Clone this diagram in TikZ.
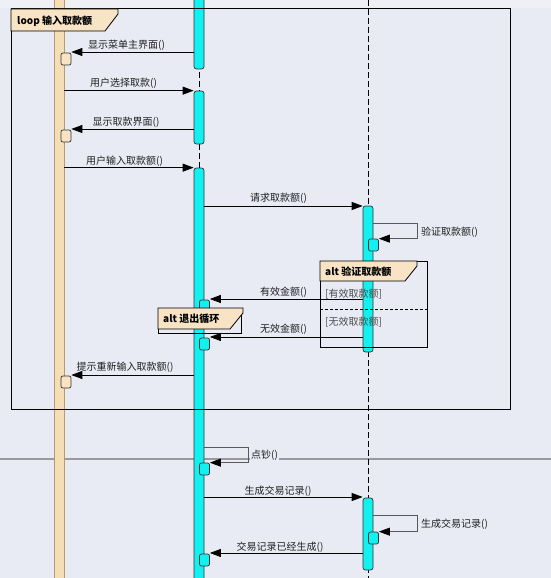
\documentclass[tikz,border=0pt]{standalone}
\usepackage{fontspec}
\setmainfont{Noto Sans CJK SC}
\usetikzlibrary{arrows.meta}
\definecolor{bg}{HTML}{E8EBF4}
\definecolor{bgtop}{HTML}{EEF0F6}
\definecolor{wheatbar}{HTML}{F5DEB6}
\definecolor{wheatedge}{HTML}{B89A70}
\definecolor{cyanbar}{HTML}{12F0F0}
\definecolor{labelfill}{HTML}{F8E4C4}
\definecolor{sepgray}{HTML}{999999}
\definecolor{txt}{HTML}{202020}
\begin{document}
\begin{tikzpicture}[x=1pt,y=-1pt,
  font=\fontsize{10}{12}\selectfont,
  tip/.style={-{Triangle[length=11pt,width=8pt,color=black]}},
  msg/.style={draw=black, line width=0.8pt, tip},
  selfmsg/.style={draw=black!65, line width=0.7pt, tip},
  lbl/.style={inner sep=0pt, text=txt},
  guard/.style={inner sep=0pt, text=black!70, anchor=west},
  flbl/.style={inner sep=0pt, anchor=west, font=\fontsize{10}{12}\selectfont\bfseries},
  cbar/.style={draw=black!80, fill=cyanbar, rounded corners=2.5pt, line width=0.7pt, minimum width=10pt, inner sep=0pt},
  wbar/.style={draw=wheatedge, fill=wheatbar, line width=0.8pt, minimum width=10pt, inner sep=0pt},
  lbox/.style={draw=black!80, fill=labelfill, rounded corners=2pt, line width=0.7pt, minimum width=10pt, minimum height=12pt, inner sep=0pt},
  cbox/.style={draw=black!80, fill=cyanbar, rounded corners=2pt, line width=0.7pt, minimum width=10pt, minimum height=12pt, inner sep=0pt},
  life/.style={draw=black, line width=0.8pt, dash pattern=on 6pt off 3pt},
  frame/.style={draw=black, line width=1pt},
  pent/.style={draw=black, fill=labelfill, line width=0.8pt},
  sep/.style={draw=sepgray, line width=1.6pt}
]
\clip (0,0) rectangle (551,578);
\fill[bg] (0,0) rectangle (551,578);
\fill[bgtop] (0,0) rectangle (551,8);

% separator line
\coordinate (sepL) at (0,459);
\coordinate (sepR) at (551,459);
\draw[sep] (sepL) -- (sepR);

% lifelines
\coordinate (midTop) at (199,0);
\coordinate (midBot) at (199,578);
\coordinate (rgtTop) at (368.5,0);
\coordinate (rgtBot) at (368.5,578);
\draw[life] (midTop) -- (midBot);
\draw[life] (rgtTop) -- (rgtBot);

% left actor bar
\node[wbar, minimum height=600pt] (lbar) at (59,289) {};

% middle activation bars
\node[cbar, minimum height=76pt] (m1) at (199,31) {};
\node[cbar, minimum height=53pt] (m2) at (199,117.5) {};
\node[cbar, minimum height=420pt] (m3) at (199,378) {};

% right activation bars
\node[cbar, minimum height=146pt] (r1) at (368,279) {};
\node[cbar, minimum height=72pt] (r2) at (368,534) {};

% loop frame
\coordinate (loopNW) at (11,9);
\coordinate (loopSE) at (510,409);
\draw[frame] (loopNW) rectangle (loopSE);

% alt 验证取款额 frame
\coordinate (altNW) at (320,261);
\coordinate (altSE) at (427,347);
\draw[frame, line width=0.9pt] (altNW) rectangle (altSE);
\coordinate (altSepL) at (320,309);
\coordinate (altSepR) at (427,309);
\draw[black, line width=0.7pt, dash pattern=on 3pt off 2pt] (altSepL) -- (altSepR);

% small activation boxes
\node[lbox] (la1) at (66,59) {};
\node[lbox] (la2) at (66,136) {};
\node[lbox] (la3) at (66,382) {};
\node[cbox] (ma1) at (204.5,306) {};
\node[cbox] (ma2) at (204.5,344) {};
\node[cbox] (ma3) at (204.5,469) {};
\node[cbox] (ma4) at (204.5,560) {};
\node[cbox] (ra1) at (373.5,245) {};
\node[cbox] (ra2) at (373.5,538) {};

% alt 退出循环 frame
\coordinate (ext1NW) at (158,308);
\coordinate (ext1SE) at (241,333);
\draw[frame, line width=0.9pt] (ext1NW) rectangle (ext1SE);

% frame labels (pentagons)
\draw[pent] (11,9) -- (118,9) -- (118,14) -- (105,31) -- (11,31) -- cycle;
\node[flbl] (loopLbl) at (17,21) {loop 输入取款额};

\draw[pent] (320,261) -- (417,261) -- (417,266) -- (405,281) -- (320,281) -- cycle;
\node[flbl] (altLbl) at (325,271.5) {alt 验证取款额};

\draw[pent] (158,308) -- (243,308) -- (243,313) -- (230,329) -- (158,329) -- cycle;
\node[flbl] (extLbl) at (163,319) {alt 退出循环};

% guards
\node[guard] (g1) at (325,294) {[有效取款额]};
\node[guard] (g2) at (325,322.5) {[无效取款额]};

% messages
\coordinate (s1) at (194,52);
\draw[msg] (s1) -- (s1 -| la1.east);
\node[lbl] (t1) at (126.5,45) {显示菜单主界面()};

\draw[msg] (m2.north west -| lbar.east) -- (m2.north west);
\node[lbl] (t2) at (123.5,83) {用户选择取款()};

\coordinate (s3) at (194,129);
\draw[msg] (s3) -- (s3 -| la2.east);
\node[lbl] (t3) at (126,122) {显示取款界面()};

\draw[msg] (m3.north west -| lbar.east) -- (m3.north west);
\node[lbl] (t4) at (124.5,161) {用户输入取款额()};

\coordinate (s5) at (204,206);
\draw[msg] (s5) -- (s5 -| r1.west);
\node[lbl] (t5) at (278.5,198) {请求取款额()};

\coordinate (s6) at (373,223);
\coordinate (c6) at (417,223);
\draw[selfmsg] (s6) -- (c6) |- (ra1.north east);
\node[lbl, anchor=west] (t6) at (421,232) {验证取款额()};

\coordinate (s7) at (363,299);
\draw[msg] (s7) -- (s7 -| ma1.east);
\node[lbl] (t7) at (283.5,292) {有效金额()};

\coordinate (s8) at (363,337);
\draw[msg] (s8) -- (s8 -| ma2.east);
\node[lbl] (t8) at (283.5,329.5) {无效金额()};

\coordinate (s9) at (194,375);
\draw[msg] (s9) -- (s9 -| la3.east);
\node[lbl] (t9) at (125,367) {提示重新输入取款额()};

\coordinate (s10) at (204,447);
\coordinate (c10) at (248,447);
\draw[selfmsg] (s10) -- (c10) |- (ma3.north east);
\node[lbl, fill=bg, inner sep=1pt, anchor=west] (t10) at (250,455.5) {点钞()};

\coordinate (s11) at (204,497);
\draw[msg] (s11) -- (s11 -| r2.west);
\node[lbl] (t11) at (278,491) {生成交易记录()};

\coordinate (s12) at (373,515);
\coordinate (c12) at (417,515);
\draw[selfmsg] (s12) -- (c12) |- (ra2.north east);
\node[lbl, anchor=west] (t12) at (421,524) {生成交易记录()};

\coordinate (s13) at (363,553);
\draw[msg] (s13) -- (s13 -| ma4.east);
\node[lbl] (t13) at (280,547) {交易记录已经生成()};
\end{tikzpicture}
\end{document}
